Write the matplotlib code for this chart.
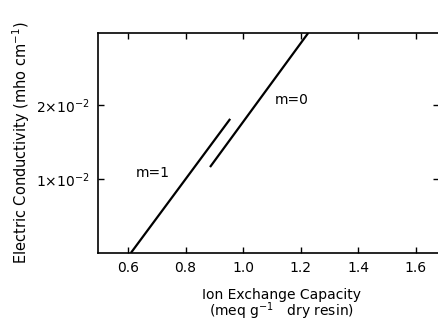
import numpy as np
import matplotlib.pyplot as plt

# line m=1 (capacity, conductivity)
x_m1 = [0.61, 0.955]
y_m1 = [0.0, 0.0181]
# line m=0
x_m0 = [0.885, 1.226]
y_m0 = [0.0116, 0.0297]

xticks = [0.6, 0.8, 1.0, 1.2, 1.4, 1.6]
xticklabels = ['0.6', '0.8', '1.0', '1.2', '1.4', '1.6']
yticks = [0.01, 0.02]
yticklabels = [r'1$\times$10$^{-2}$', r'2$\times$10$^{-2}$']

fig = plt.figure(figsize=(4.39, 3.23), dpi=100)
ax = fig.add_axes([0.2232, 0.2167, 0.7768, 0.6813])

ax.plot(x_m1, y_m1, color='black', lw=1.6, solid_capstyle='butt')
ax.plot(x_m0, y_m0, color='black', lw=1.6, solid_capstyle='butt')

ax.text(0.687, 0.0108, 'm=1', fontsize=10, ha='center', va='center')
ax.text(1.170, 0.0207, 'm=0', fontsize=10, ha='center', va='center')

ax.set_xlim(0.496, 1.68)
ax.set_ylim(0.0, 0.0297)
ax.set_xticks(xticks)
ax.set_xticklabels(xticklabels, fontsize=10)
ax.set_yticks(yticks)
ax.set_yticklabels(yticklabels, fontsize=10)
ax.tick_params(direction='in', length=4, width=1, top=True, right=True, pad=6)
ax.spines['right'].set_visible(False)
for s in ['left', 'top', 'bottom']:
    ax.spines[s].set_linewidth(1.2)

ax.set_ylabel(r'Electric Conductivity (mho cm$^{-1}$)', fontsize=10.5, labelpad=3)
fig.text(0.642, 0.088, 'Ion Exchange Capacity', fontsize=10, ha='center', va='center')
fig.text(0.642, 0.036, r'(meq g$^{-1}$   dry resin)', fontsize=10, ha='center', va='center')

fig.savefig('out.png', dpi=100)
